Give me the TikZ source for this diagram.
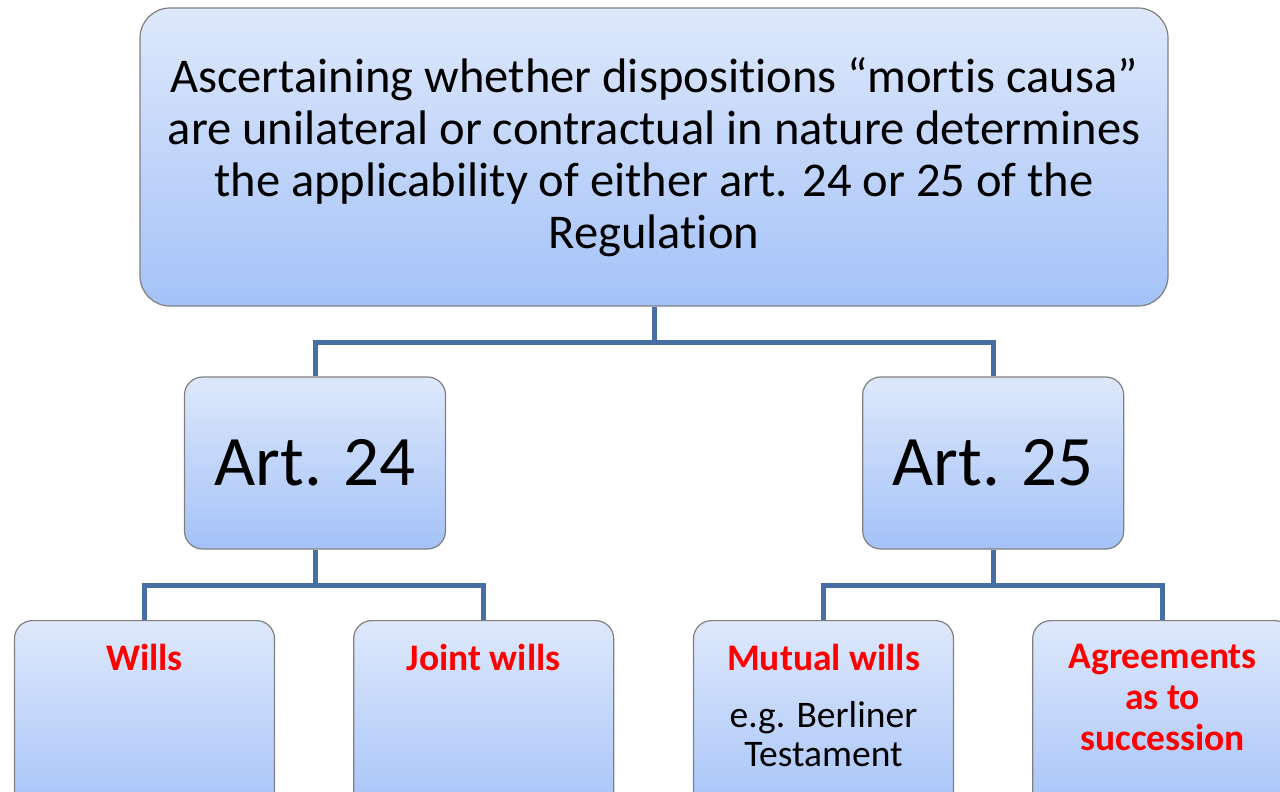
\documentclass[tikz,border=0pt]{standalone}
\usepackage{fontspec}
\setmainfont[Ligatures=NoCommon]{Carlito}
\usetikzlibrary{positioning}

\definecolor{boxtop}{RGB}{222,232,251}
\definecolor{boxbot}{RGB}{164,194,248}
\definecolor{boxline}{RGB}{128,128,128}
\definecolor{linkblue}{RGB}{72,110,166}
\definecolor{hotred}{RGB}{255,0,0}

\begin{document}
\begin{tikzpicture}[x=1pt,y=-1pt,
    box/.style={draw=boxline,line width=1.2pt,rounded corners=18pt,
      top color=boxtop,bottom color=boxbot,inner sep=0pt},
    head/.style={box,minimum width=261pt,minimum height=172pt,
      font=\fontsize{71}{80}\selectfont},
    leaf/.style={box,minimum width=260pt,minimum height=200pt,anchor=north},
    leaftext/.style={anchor=north,yshift=-24pt,inner sep=0pt,align=center,
      font=\fontsize{37.5}{39}\selectfont},
    redtext/.style={text=hotred,font=\fontsize{37.5}{41}\selectfont\bfseries},
    link/.style={draw=linkblue,line width=5pt}]

  \clip (0,0) rectangle (1280,792);
  \fill[white] (0,0) rectangle (1280,792);

  % Question
  \node[box,rounded corners=30pt,minimum width=1028pt,minimum height=298pt,
    align=center,font=\fontsize{48.5}{52}\selectfont] (rule) at (654,157)
    {Ascertaining whether dispositions “mortis causa”\\
     are unilateral or contractual in nature determines\\
     the applicability of either art. 24 or 25 of the\\
     Regulation};

  % Articles
  \node[head] (art24) at (315,463) {Art. 24};
  \node[head] (art25) [right=416pt of art24] {Art. 25};

  % Kinds of dispositions
  \node[leaf] (wills) at (144.5,620) {};
  \node[leaf] (joint) [right=78pt of wills] {};
  \node[leaf] (mutual) at (823.5,620) {};
  \node[leaf] (agree) [right=78pt of mutual] {};

  \node[leaftext,redtext] (willstext) at (wills.north) {Wills};
  \node[leaftext,redtext] (jointtext) at (joint.north) {Joint wills};
  \node[leaftext] (mutualtext) at (mutual.north)
    {\textcolor{hotred}{\bfseries Mutual wills}\\[18pt]
     e.g. Berliner\\ Testament};
  \node[leaftext,redtext] (agreetext) at (agree.north)
    {Agreements\\ as to\\ succession};

  % Connectors
  \draw[link] (rule.south) -- ++(0,36) -| (art24.north);
  \draw[link] (rule.south) -- ++(0,36) -| (art25.north);
  \draw[link] (art24.south) -- ++(0,36) -| (wills.north);
  \draw[link] (art24.south) -- ++(0,36) -| (joint.north);
  \draw[link] (art25.south) -- ++(0,36) -| (mutual.north);
  \draw[link] (art25.south) -- ++(0,36) -| (agree.north);

\end{tikzpicture}
\end{document}
